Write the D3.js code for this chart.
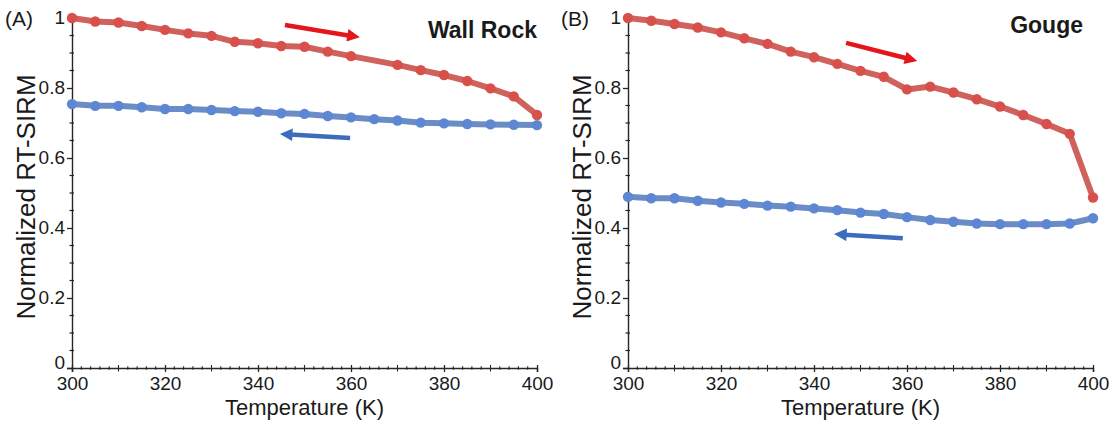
<!DOCTYPE html>
<html>
<head>
<meta charset="utf-8">
<script src="https://cdn.jsdelivr.net/npm/d3@7"></script>
<style>
  html, body { margin: 0; padding: 0; background: #fff; }
  svg { display: block; }
  text { font-family: "Liberation Sans", Arial, sans-serif; fill: #1a1a1a; }
</style>
</head>
<body>
<svg id="chart" width="1114" height="421"></svg>
<script>
// ---------- data ----------
const wallHeatT = [300,305,310,315,320,325,330,335,340,345,350,355,360,370,375,380,385,390,395,400];
const wallHeatV = [1.000,0.990,0.987,0.977,0.966,0.956,0.949,0.932,0.928,0.920,0.918,0.904,0.891,0.866,0.851,0.837,0.820,0.799,0.776,0.723];
const wallCoolT = [300,305,310,315,320,325,330,335,340,345,350,355,360,365,370,375,380,385,390,395,400];
const wallCoolV = [0.754,0.749,0.749,0.745,0.740,0.740,0.737,0.734,0.732,0.728,0.726,0.720,0.716,0.711,0.707,0.701,0.699,0.697,0.696,0.695,0.694];

const gougeHeatT = [300,305,310,315,320,325,330,335,340,345,350,355,360,365,370,375,380,385,390,395,400];
const gougeHeatV = [1.000,0.992,0.983,0.973,0.959,0.942,0.926,0.904,0.888,0.869,0.849,0.832,0.796,0.804,0.787,0.768,0.747,0.723,0.697,0.669,0.487];
const gougeCoolT = [300,305,310,315,320,325,330,335,340,345,350,355,360,365,370,375,380,385,390,395,400];
const gougeCoolV = [0.489,0.485,0.485,0.478,0.473,0.469,0.464,0.461,0.456,0.451,0.444,0.440,0.431,0.423,0.418,0.413,0.411,0.411,0.411,0.413,0.428];

// arrows in data coordinates: [tailT, tailV, headT, headV]
const wallRedArrow  = [345.8, 0.980, 362.3, 0.944];
const wallBlueArrow = [359.8, 0.657, 344.3, 0.669];
const gougeRedArrow = [346.9, 0.929, 362.6, 0.876];
const gougeBlueArrow= [359.1, 0.371, 343.9, 0.383];

const xTickLabels = [300,320,340,360,380,400];
const yTickLabels = [0,0.2,0.4,0.6,0.8,1];

const panels = [
  {tag:"(A)", title:"Wall Rock", x0:72, x1:537,
   heatT:wallHeatT, heatV:wallHeatV, coolT:wallCoolT, coolV:wallCoolV,
   redArrow:wallRedArrow, blueArrow:wallBlueArrow, titleX:537, titleY:38},
  {tag:"(B)", title:"Gouge", x0:628, x1:1093,
   heatT:gougeHeatT, heatV:gougeHeatV, coolT:gougeCoolT, coolV:gougeCoolV,
   redArrow:gougeRedArrow, blueArrow:gougeBlueArrow, titleX:1083, titleY:33}
];

// ---------- drawing ----------
const svg = d3.select("#chart");
const yTop = 18, yBot = 368;
const RED_LINE = "#cf625d", RED_PT = "#d8504c";
const BLUE_LINE = "#6b8dc6", BLUE_PT = "#5d87d3";
const AX = "#262626";

const defs = svg.append("defs");
function marker(id, color) {
  defs.append("marker").attr("id", id)
    .attr("viewBox", "0 0 10 10").attr("refX", 2).attr("refY", 5)
    .attr("markerWidth", 3.4).attr("markerHeight", 2.8)
    .attr("markerUnits", "strokeWidth").attr("orient", "auto")
    .append("path").attr("d", "M0,0 L10,5 L0,10 Z").attr("fill", color);
}
marker("arrRed", "#e5151c");
marker("arrBlue", "#3d6cbc");

panels.forEach(p => {
  const x = d3.scaleLinear().domain([300, 400]).range([p.x0, p.x1]);
  const y = d3.scaleLinear().domain([0, 1]).range([yBot, yTop]);
  const g = svg.append("g");

  // y axis
  const yAx = g.append("g").attr("transform", `translate(${p.x0},0)`)
    .call(d3.axisLeft(y).tickValues(yTickLabels).tickSize(5).tickPadding(2)
      .tickFormat(d => d === 0 ? "0" : d === 1 ? "1" : d3.format(".1f")(d)));
  yAx.select(".domain").attr("stroke", AX).attr("stroke-width", 1.4);
  yAx.selectAll(".tick line").attr("stroke", AX).attr("stroke-width", 1.3);
  yAx.selectAll(".tick text").attr("font-size", 19).attr("fill", "#1a1a1a")
    .attr("font-family", "Liberation Sans, Arial, sans-serif")
    .attr("dy", d => d === 0 ? "0.05em" : "0.28em");
  // minor y ticks
  const yMinor = d3.range(0, 1.0001, 0.05).filter(v => Math.abs(v*5 - Math.round(v*5)) > 1e-6);
  g.selectAll(".ymin").data(yMinor).join("line")
    .attr("x1", p.x0 - 2.5).attr("x2", p.x0 + 2)
    .attr("y1", d => y(d)).attr("y2", d => y(d))
    .attr("stroke", AX).attr("stroke-width", 1.2);

  // x axis
  const xAx = g.append("g").attr("transform", `translate(0,${yBot})`)
    .call(d3.axisBottom(x).tickValues(xTickLabels).tickSize(4).tickPadding(5).tickFormat(d3.format("d")));
  xAx.select(".domain").attr("stroke", AX).attr("stroke-width", 1.4);
  xAx.selectAll(".tick line").attr("stroke", AX).attr("stroke-width", 1.3).attr("y1", -3);
  xAx.selectAll(".tick text").attr("font-size", 19).attr("fill", "#1a1a1a")
    .attr("font-family", "Liberation Sans, Arial, sans-serif");
  const xMinor = d3.range(302, 400, 2).filter(t => t % 20 !== 0);
  g.selectAll(".xmin").data(xMinor).join("line")
    .attr("x1", d => x(d)).attr("x2", d => x(d))
    .attr("y1", d => yBot - (d % 10 === 0 ? 3 : 1.8))
    .attr("y2", d => yBot + (d % 10 === 0 ? 3.5 : 1.8))
    .attr("stroke", AX).attr("stroke-width", 1.1);

  // axis titles
  g.append("text").attr("x", (p.x0 + p.x1) / 2).attr("y", 415)
    .attr("text-anchor", "middle").attr("font-size", 22).text("Temperature (K)");
  g.append("text")
    .attr("transform", `translate(${p.x0 - 37},${(yTop + yBot) / 2 + 4}) rotate(-90)`)
    .attr("text-anchor", "middle").attr("font-size", 26).text("Normalized RT-SIRM");

  // panel tag & title
  g.append("text").attr("x", p.x0 - 67).attr("y", 26).attr("font-size", 21).text(p.tag);
  g.append("text").attr("x", p.titleX).attr("y", p.titleY).attr("text-anchor", "end")
    .attr("font-size", 23).attr("font-weight", "bold").attr("fill", "#111").text(p.title);

  // series
  const line = d3.line().x(d => x(d[0])).y(d => y(d[1]));
  const cool = p.coolT.map((t, i) => [t, p.coolV[i]]);
  const heat = p.heatT.map((t, i) => [t, p.heatV[i]]);

  g.append("path").datum(cool).attr("d", line).attr("fill", "none")
    .attr("stroke", BLUE_LINE).attr("stroke-width", 6).attr("stroke-linejoin", "round");
  g.selectAll(".cpt").data(cool).join("circle")
    .attr("cx", d => x(d[0])).attr("cy", d => y(d[1])).attr("r", 5.2)
    .attr("fill", BLUE_PT);

  g.append("path").datum(heat).attr("d", line).attr("fill", "none")
    .attr("stroke", RED_LINE).attr("stroke-width", 6).attr("stroke-linejoin", "round");
  g.selectAll(".hpt").data(heat).join("circle")
    .attr("cx", d => x(d[0])).attr("cy", d => y(d[1])).attr("r", 5.2)
    .attr("fill", RED_PT);

  // arrows
  const arrow = (a, color, mk) => g.append("line")
    .attr("x1", x(a[0])).attr("y1", y(a[1])).attr("x2", x(a[2])).attr("y2", y(a[3]))
    .attr("stroke", color).attr("stroke-width", 4.5).attr("marker-end", `url(#${mk})`);
  const shorten = a => {
    const dx = x(a[2]) - x(a[0]), dy = y(a[3]) - y(a[1]);
    const L = Math.hypot(dx, dy), k = (L - 12) / L;
    return [a[0], a[1], x.invert(x(a[0]) + dx * k), y.invert(y(a[1]) + dy * k)];
  };
  arrow(shorten(p.redArrow), "#e5151c", "arrRed");
  arrow(shorten(p.blueArrow), "#3d6cbc", "arrBlue");
});
</script>
</body>
</html>
